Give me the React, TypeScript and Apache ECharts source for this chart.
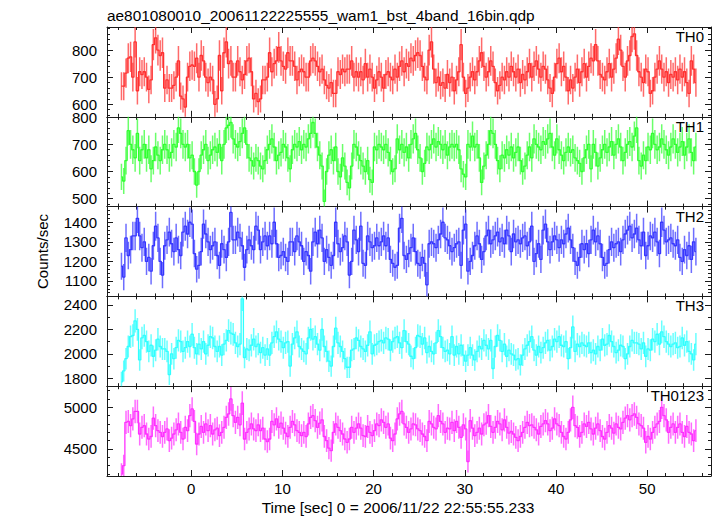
import React, { useEffect, useRef } from "react";
import * as echarts from "echarts";

const TITLE = "ae801080010_20061122225555_wam1_bst_4band_16bin.qdp";
const X_LABEL = "Time [sec] 0 = 2006/11/22 22:55:55.233";
const Y_LABEL = "Counts/sec";
const BIN_WIDTH = 0.25;
const FIRST_BIN_START = -7.78;

const BAND_NAMES = ["TH0", "TH1", "TH2", "TH3", "TH0123"];
const BAND_COLORS = ["#ff3030", "#30ff30", "#3636ff", "#30ffff", "#ff30ff"];
const Y_MIN = [554, 471, 1021, 1735, 4176];
const Y_MAX = [885, 801, 1480, 2470, 5253];
const Y_MAJOR_STEP = [100, 100, 100, 200, 500];
const Y_MINOR_SPLIT = [5, 5, 5, 2, 5];
const X_MIN = -9.24;
const X_MAX = 57;
const X_MAJOR_STEP = 10;
const X_MINOR_SPLIT = 5;

const TH0 = [
  667, 667, 715, 770, 775, 700, 830, 650, 720, 710,
  720, 700, 655, 690, 820, 845, 800, 780, 790, 660,
  690, 660, 660, 670, 700, 760, 630, 620, 590, 700,
  740, 745, 740, 770, 700, 780, 760, 700, 680, 700,
  690, 600, 620, 780, 650, 790, 830, 750, 760, 700,
  700, 760, 720, 690, 710, 760, 770, 720, 620, 640,
  610, 620, 690, 690, 700, 790, 720, 750, 760, 810,
  760, 740, 730, 790, 760, 760, 740, 690, 720, 730,
  720, 700, 700, 760, 770, 760, 740, 720, 730, 690,
  670, 660, 680, 640, 640, 720, 710, 730, 720, 730,
  730, 760, 700, 720, 700, 720, 690, 750, 700, 730,
  700, 660, 690, 720, 700, 660, 710, 720, 700, 690,
  730, 700, 740, 760, 720, 750, 740, 770, 760, 780,
  790, 780, 740, 700, 690, 800, 830, 730, 680, 700,
  670, 680, 660, 710, 680, 700, 650, 690, 720, 820,
  700, 640, 660, 700, 720, 690, 720, 760, 790, 740,
  700, 720, 760, 740, 680, 650, 670, 700, 690, 720,
  700, 740, 720, 700, 730, 680, 710, 690, 720, 750,
  700, 740, 760, 730, 700, 740, 730, 690, 660, 640,
  700, 750, 770, 720, 740, 700, 650, 690, 660, 700,
  730, 680, 720, 750, 700, 740, 770, 760, 820, 760,
  710, 700, 690, 720, 750, 700, 730, 770, 840, 800,
  740, 700, 760, 780, 850, 860, 780, 720, 700, 680,
  730, 720, 640, 650, 700, 730, 760, 730, 700, 720,
  680, 710, 700, 720, 690, 730, 700, 720, 680, 640,
  760, 730, 680,
];

const TH1 = [
  580, 565, 640, 750, 700, 680, 650, 740, 640, 680,
  700, 650, 680, 610, 640, 690, 660, 640, 680, 700,
  680, 650, 670, 700, 690, 760, 740, 700, 690, 700,
  650, 660, 600, 550, 600, 660, 680, 700, 640, 660,
  680, 690, 670, 700, 640, 700, 760, 770, 780, 720,
  700, 690, 710, 740, 760, 700, 650, 640, 620, 650,
  640, 620, 610, 640, 680, 700, 720, 690, 640, 660,
  670, 700, 690, 650, 610, 680, 700, 690, 710, 680,
  700, 690, 720, 740, 780, 740, 690, 660, 620, 490,
  600, 660, 680, 640, 690, 600, 580, 650, 620, 560,
  540, 620, 700, 690, 660, 640, 620, 600, 640, 570,
  560, 690, 680, 700, 690, 680, 700, 670, 640, 600,
  610, 720, 680, 700, 670, 690, 650, 700, 720, 740,
  680, 650, 600, 630, 690, 680, 700, 720, 690, 710,
  700, 680, 700, 660, 690, 700, 690, 700, 680, 610,
  590, 580, 700, 690, 730, 690, 700, 650, 560, 620,
  660, 700, 750, 740, 700, 640, 610, 660, 650, 680,
  660, 690, 650, 670, 690, 640, 600, 620, 660, 690,
  650, 720, 700, 690, 680, 710, 700, 720, 740, 690,
  660, 720, 680, 660, 640, 670, 690, 670, 680, 650,
  640, 630, 600, 650, 680, 700, 610, 700, 670, 620,
  650, 680, 700, 670, 690, 710, 660, 700, 720, 690,
  640, 670, 700, 710, 690, 730, 760, 640, 620, 660,
  640, 690, 680, 740, 700, 680, 690, 720, 700, 680,
  660, 690, 720, 700, 670, 690, 710, 660, 690, 720,
  670, 640, 690,
];

const TH2 = [
  1175, 1120, 1320, 1230, 1260, 1330, 1330, 1420, 1330, 1270,
  1300, 1200, 1220, 1150, 1280, 1380, 1320, 1200, 1130, 1280,
  1310, 1350, 1290, 1250, 1320, 1260, 1230, 1350, 1380, 1340,
  1400, 1390, 1240, 1160, 1180, 1250, 1390, 1340, 1300, 1260,
  1280, 1300, 1230, 1180, 1290, 1260, 1220, 1300, 1450, 1310,
  1310, 1350, 1320, 1280, 1170, 1260, 1310, 1280, 1260, 1380,
  1360, 1260, 1300, 1330, 1280, 1330, 1290, 1400, 1290, 1220,
  1230, 1250, 1220, 1200, 1300, 1300, 1250, 1330, 1300, 1280,
  1200, 1250, 1230, 1150, 1300, 1350, 1290, 1360, 1320, 1200,
  1260, 1220, 1180, 1230, 1400, 1290, 1250, 1270, 1330, 1300,
  1130, 1200, 1360, 1310, 1250, 1380, 1190, 1180, 1330, 1300,
  1270, 1280, 1320, 1280, 1300, 1330, 1280, 1320, 1210, 1190,
  1170, 1180, 1370, 1420, 1230, 1210, 1240, 1270, 1320, 1250,
  1190, 1180, 1220, 1190, 1080, 1290, 1300, 1290, 1270, 1310,
  1340, 1400, 1320, 1310, 1280, 1250, 1270, 1290, 1300, 1180,
  1360, 1390, 1150, 1200, 1230, 1280, 1330, 1290, 1210, 1250,
  1330, 1360, 1290, 1310, 1330, 1350, 1300, 1320, 1290, 1360,
  1330, 1250, 1340, 1300, 1310, 1290, 1320, 1330, 1280, 1300,
  1380, 1200, 1240, 1290, 1210, 1360, 1390, 1300, 1260, 1300,
  1330, 1310, 1270, 1310, 1290, 1340, 1370, 1310, 1270, 1200,
  1180, 1220, 1290, 1260, 1290, 1240, 1310, 1360, 1300, 1330,
  1290, 1220, 1180, 1190, 1260, 1300, 1270, 1290, 1300, 1250,
  1310, 1340, 1360, 1380, 1320, 1340, 1370, 1310, 1280, 1350,
  1230, 1280, 1330, 1320, 1350, 1300, 1240, 1400, 1360, 1300,
  1310, 1320, 1290, 1280, 1310, 1220, 1200, 1260, 1230, 1280,
  1210, 1300, 1250,
];

const TH3 = [
  1770, 1860, 1960, 2060, 2140, 2150, 2270, 2200, 1950, 2130,
  2150, 2100, 2020, 2070, 1980, 2030, 2120, 2060, 2040, 2040,
  2020, 1830, 2000, 1960, 2050, 2110, 2100, 2020, 2050, 2100,
  2060, 2160, 2050, 2000, 2080, 2040, 2100, 2000, 2070, 2140,
  2130, 2060, 2020, 2060, 1990, 2080, 2110, 2190, 2170, 2160,
  2090, 2060, 2080, 2450, 1970, 2040, 2030, 2070, 2120, 2060,
  2080, 2010, 2050, 1990, 2040, 1990, 2090, 2140, 2180, 2120,
  2100, 2050, 2090, 2100, 1900, 2080, 2130, 2180, 2060, 2040,
  2020, 2000, 2130, 2200, 2120, 2140, 2080, 2030, 2200, 2060,
  2020, 1940, 1900, 2060, 2210, 2090, 2060, 2020, 1960, 1890,
  1890, 2030, 2040, 2130, 2110, 2060, 2040, 2020, 2070, 2180,
  2000, 2070, 2080, 2100, 2110, 2090, 2130, 2120, 2030, 2100,
  2130, 2140, 2090, 2050, 2190, 2100, 2080, 1980, 1960, 2050,
  2150, 2140, 2080, 2130, 2010, 2060, 2020, 2000, 2090, 2190,
  2140, 2050, 2020, 2030, 2000, 2140, 1990, 2060, 2000, 2070,
  1990, 1940, 1990, 2050, 1990, 1950, 2020, 2060, 2040, 2110,
  2070, 2040, 2110, 1880, 2060, 2150, 2110, 2020, 2080, 1980,
  2030, 2000, 1990, 1950, 1960, 1910, 1990, 2040, 2070, 2100,
  2140, 2030, 1990, 2060, 2010, 2050, 2090, 2110, 2030, 2060,
  2120, 2100, 2140, 2070, 2060, 2100, 1960, 2050, 2220, 2020,
  2080, 2060, 2090, 2070, 2060, 2090, 2010, 2030, 2000, 2060,
  2030, 2120, 2070, 2080, 2150, 2100, 2060, 2010, 2030, 2070,
  2060, 1960, 2000, 2060, 2110, 2090, 2090, 2080, 2040, 2090,
  1980, 2040, 2030, 2120, 2100, 2160, 2080, 2180, 2140, 2100,
  2080, 2060, 2080, 2090, 2050, 2060, 2130, 2070, 2100, 2020,
  2000, 1950, 2080,
];

const TH0123 = [
  4200, 4300, 4820, 4830, 4780, 4860, 4950, 4950, 4680, 4760,
  4780, 4680, 4620, 4650, 4870, 4780, 4720, 4700, 4650, 4700,
  4740, 4600, 4630, 4680, 4730, 4800, 4700, 4620, 4760, 4720,
  4900, 4980, 4830, 4560, 4680, 4770, 4700, 4800, 4720, 4780,
  4680, 4730, 4750, 4660, 4700, 4760, 4880, 4920, 5100, 4900,
  4820, 4880, 4790, 5050, 4620, 4700, 4740, 4800, 4740, 4720,
  4790, 4720, 4750, 4620, 4590, 4620, 4830, 4790, 4860, 4760,
  4810, 4750, 4690, 4650, 4760, 4830, 4790, 4720, 4700, 4660,
  4700, 4650, 4800, 4880, 4900, 4840, 4760, 4810, 4850, 4650,
  4600, 4510, 4480, 4700, 4800, 4760, 4720, 4680, 4620, 4580,
  4620, 4760, 4700, 4750, 4800, 4750, 4660, 4650, 4770, 4700,
  4660, 4720, 4800, 4780, 4850, 4820, 4760, 4800, 4630, 4600,
  4680, 4860, 4920, 4950, 4800, 4760, 4700, 4740, 4800, 4790,
  4740, 4720, 4680, 4650, 4600, 4830, 4800, 4760, 4740, 4900,
  4830, 4800, 4700, 4750, 4740, 4820, 4720, 4830, 4760, 4640,
  4790, 4740, 4350, 4840, 4750, 4660, 4700, 4750, 4680, 4790,
  4810, 4900, 4770, 4700, 4760, 4830, 4800, 4730, 4850, 4760,
  4690, 4710, 4680, 4640, 4600, 4650, 4700, 4760, 4820, 4780,
  4790, 4760, 4730, 4680, 4770, 4800, 4840, 4800, 4720, 4750,
  4860, 4800, 4780, 4700, 4650, 4620, 4700, 4850, 5000, 4780,
  4760, 4650, 4700, 4800, 4770, 4820, 4740, 4680, 4750, 4800,
  4720, 4650, 4620, 4700, 4780, 4750, 4690, 4800, 4760, 4740,
  4820, 4870, 4900, 4850, 4900, 4920, 4880, 4800, 4780, 4750,
  4580, 4650, 4620, 4700, 4760, 4800, 4830, 5000, 4900, 4850,
  4700, 4760, 4800, 4700, 4760, 4800, 4700, 4650, 4770, 4700,
  4680, 4600, 4720,
];

const BANDS = [TH0, TH1, TH2, TH3, TH0123];

const FONT = "'Liberation Sans', Arial, Helvetica, sans-serif";
const GRID_LEFT = 107;
const GRID_RIGHT = 6;
const GRID_TOP = 27;
const PANEL_H = 89.8;
const FRAME = "#1a1a1a";

function binCenter(i: number): number {
  return FIRST_BIN_START + BIN_WIDTH * (i + 0.5);
}

// Poisson error on a count rate accumulated over one bin
function rateError(rate: number): number {
  return Math.sqrt(rate * BIN_WIDTH) / BIN_WIDTH;
}

function buildOption() {
  const grid: any[] = [];
  const xAxis: any[] = [];
  const yAxis: any[] = [];
  const series: any[] = [];
  const graphic: any[] = [];

  BANDS.forEach((values, g) => {
    const top = GRID_TOP + g * PANEL_H;
    grid.push({ left: GRID_LEFT, right: GRID_RIGHT, top, height: PANEL_H });

    const tickCommon = {
      axisLine: { show: true, onZero: false, lineStyle: { color: FRAME, width: 1 } },
      axisTick: { show: true, inside: true, length: 6, lineStyle: { color: FRAME, width: 1 } },
      minorTick: { show: true, length: 3, lineStyle: { color: FRAME, width: 1 } },
      splitLine: { show: false },
      minorSplitLine: { show: false },
    };

    ["bottom", "top"].forEach((pos) => {
      xAxis.push({
        type: "value",
        gridIndex: g,
        position: pos,
        min: X_MIN,
        max: X_MAX,
        minInterval: X_MAJOR_STEP,
        maxInterval: X_MAJOR_STEP,
        ...tickCommon,
        minorTick: { ...tickCommon.minorTick, splitNumber: X_MINOR_SPLIT },
        axisLabel: {
          show: pos === "bottom" && g === BANDS.length - 1,
          showMinLabel: false,
          showMaxLabel: false,
          formatter: (v: number) => String(v),
          color: "#000",
          fontFamily: FONT,
          fontSize: 15,
          margin: 5,
        },
      });
    });

    ["left", "right"].forEach((pos) => {
      yAxis.push({
        type: "value",
        gridIndex: g,
        position: pos,
        min: Y_MIN[g],
        max: Y_MAX[g],
        minInterval: Y_MAJOR_STEP[g],
        maxInterval: Y_MAJOR_STEP[g],
        ...tickCommon,
        minorTick: { ...tickCommon.minorTick, splitNumber: Y_MINOR_SPLIT[g] },
        axisLabel: {
          show: pos === "left",
          showMinLabel: false,
          showMaxLabel: false,
          hideOverlap: false,
          formatter: (v: number) => String(v),
          color: "#000",
          fontFamily: FONT,
          fontSize: 15,
          lineHeight: 11,
          margin: 10,
        },
      });
    });

    const color = BAND_COLORS[g];
    series.push({
      type: "custom",
      name: BAND_NAMES[g] + " errors",
      xAxisIndex: 2 * g,
      yAxisIndex: 2 * g,
      clip: true,
      silent: true,
      z: 2,
      data: values.map((v, i) => [binCenter(i), v, rateError(v)]),
      renderItem: (params: any, api: any) => {
        const t = api.value(0);
        const v = api.value(1);
        const e = api.value(2);
        const p1 = api.coord([t, v - e]);
        const p2 = api.coord([t, v + e]);
        return {
          type: "line",
          shape: { x1: p1[0], y1: p1[1], x2: p2[0], y2: p2[1] },
          style: { stroke: color, lineWidth: 1.5, opacity: 0.72 },
        };
      },
    });
    series.push({
      type: "line",
      name: BAND_NAMES[g],
      xAxisIndex: 2 * g,
      yAxisIndex: 2 * g,
      step: "middle",
      symbol: "none",
      showSymbol: false,
      silent: true,
      z: 3,
      data: values.map((v, i) => [binCenter(i), v]),
      lineStyle: { color, width: 1.3, opacity: 1 },
    });

    graphic.push({
      type: "text",
      x: 704,
      y: top + 2,
      z: 100,
      style: {
        text: BAND_NAMES[g],
        fill: "#000",
        fontFamily: FONT,
        fontSize: 15,
        align: "right",
        verticalAlign: "top",
      },
    });
  });

  graphic.push({
    type: "text",
    x: GRID_LEFT,
    y: 15,
    style: {
      text: TITLE,
      fill: "#000",
      fontFamily: FONT,
      fontSize: 15.4,
      align: "left",
      verticalAlign: "middle",
    },
  });
  graphic.push({
    type: "text",
    x: 42,
    y: GRID_TOP + (PANEL_H * BANDS.length) / 2,
    rotation: Math.PI / 2,
    style: {
      text: Y_LABEL,
      fill: "#000",
      fontFamily: FONT,
      fontSize: 15,
      align: "center",
      verticalAlign: "middle",
    },
  });
  graphic.push({
    type: "text",
    x: 398,
    y: 507,
    style: {
      text: X_LABEL,
      fill: "#000",
      fontFamily: FONT,
      fontSize: 15.5,
      align: "center",
      verticalAlign: "middle",
    },
  });

  return {
    animation: false,
    backgroundColor: "#ffffff",
    grid,
    xAxis,
    yAxis,
    series,
    graphic,
  };
}

export default function App() {
  const ref = useRef<HTMLDivElement>(null);
  useEffect(() => {
    if (!ref.current) return;
    const chart = echarts.init(ref.current, undefined, { renderer: "svg" });
    chart.setOption(buildOption() as any);
    return () => chart.dispose();
  }, []);
  return (
    <div
      ref={ref}
      style={{ position: "fixed", left: 0, top: 0, width: 717, height: 516, background: "#fff" }}
    />
  );
}
